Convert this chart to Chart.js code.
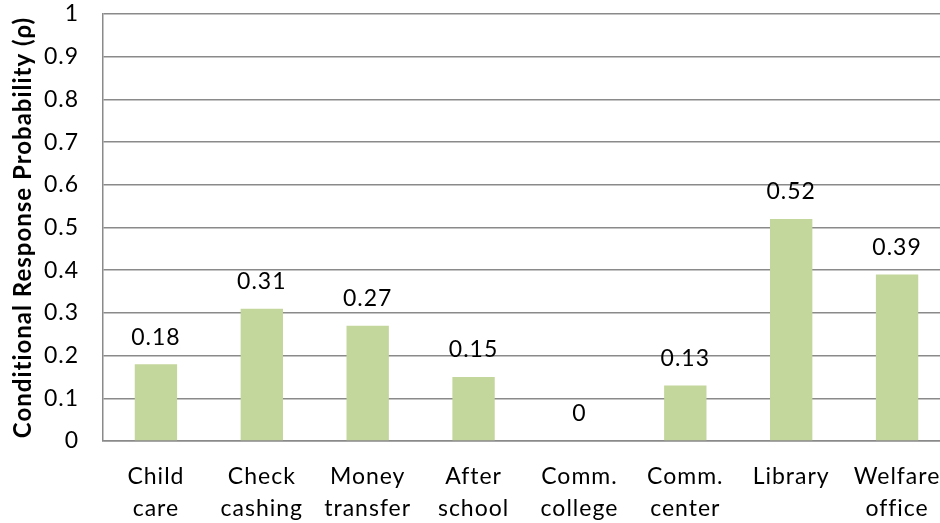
<!DOCTYPE html>
<html>
<head>
<meta charset="utf-8">
<script src="https://cdn.jsdelivr.net/npm/chart.js@4/dist/chart.umd.min.js"></script>
<style>
  html, body { margin: 0; padding: 0; background: #ffffff; overflow: hidden; }
  #wrap { width: 940px; height: 523px; position: relative; overflow: hidden; }
  #chart { position: absolute; left: 0; top: 0; }
</style>
</head>
<body>
<div id="wrap"><canvas id="chart" width="950" height="523"></canvas></div>
<script>
// Service categories (two-line labels) and conditional response probabilities
const categories = [
  ["Child", "care"],
  ["Check", "cashing"],
  ["Money", "transfer"],
  ["After", "school"],
  ["Comm.", "college"],
  ["Comm.", "center"],
  ["Library"],
  ["Welfare", "office"]
];
const probabilities = [0.18, 0.31, 0.27, 0.15, 0, 0.13, 0.52, 0.39];
const yTicks = [0, 0.1, 0.2, 0.3, 0.4, 0.5, 0.6, 0.7, 0.8, 0.9, 1];

const FONT = "Lato, Carlito, Calibri, 'Open Sans', sans-serif";
const SPACING = '1px';

// Slightly open letter spacing for all chart text
const textSpacing = {
  id: 'textSpacing',
  beforeInit(chart) { chart.ctx.letterSpacing = SPACING; },
  beforeUpdate(chart) { chart.ctx.letterSpacing = SPACING; },
  beforeDraw(chart) { chart.ctx.letterSpacing = SPACING; }
};

// Writes each bar's value just above it
const valueLabels = {
  id: 'valueLabels',
  afterDatasetsDraw(chart) {
    const ctx = chart.ctx;
    const meta = chart.getDatasetMeta(0);
    ctx.save();
    ctx.letterSpacing = SPACING;
    ctx.font = `23px ${FONT}`;
    ctx.fillStyle = '#000000';
    ctx.textAlign = 'center';
    ctx.textBaseline = 'middle';
    meta.data.forEach((bar, i) => {
      ctx.fillText(String(probabilities[i]), bar.x, bar.y - 27);
    });
    ctx.restore();
  }
};

// Fixed axis box sizes so the plot area sits where intended
function clearEdgePadding(scale) {
  scale.paddingTop = 0;
  scale.paddingBottom = 0;
  scale.paddingLeft = 0;
  scale.paddingRight = 0;
}

new Chart(document.getElementById('chart'), {
  type: 'bar',
  data: {
    labels: categories,
    datasets: [{
      data: probabilities,
      backgroundColor: '#c3d69b',
      borderWidth: 0,
      barPercentage: 0.4,
      categoryPercentage: 1.0
    }]
  },
  options: {
    responsive: false,
    animation: false,
    layout: { padding: { top: 14, right: 0, bottom: 0, left: 11 } },
    plugins: {
      legend: { display: false },
      tooltip: { enabled: false }
    },
    scales: {
      x: {
        afterFit(scale) { clearEdgePadding(scale); scale.height = 82; },
        grid: { display: false, drawTicks: false },
        border: { display: true, color: '#8a8a8a', width: 1.5 },
        ticks: {
          font: { family: FONT, size: 23, lineHeight: 1.4 },
          color: '#000000',
          padding: 19,
          maxRotation: 0,
          autoSkip: false
        }
      },
      y: {
        min: 0,
        max: 1,
        afterFit(scale) { clearEdgePadding(scale); scale.width = 92; },
        afterBuildTicks(axis) {
          axis.ticks = yTicks.map(v => ({ value: v }));
        },
        grid: { color: '#8a8a8a', lineWidth: 1.5, drawTicks: false },
        border: { display: true, color: '#8a8a8a', width: 1.5 },
        ticks: {
          font: { family: FONT, size: 23 },
          color: '#000000',
          padding: 24,
          callback: v => String(Math.round(v * 10) / 10)
        },
        title: {
          display: true,
          text: 'Conditional Response Probability (ρ)',
          font: { family: FONT, size: 24, weight: 'bold', lineHeight: 1.0 },
          color: '#000000',
          padding: { top: 0, bottom: 0 }
        }
      }
    }
  },
  plugins: [textSpacing, valueLabels]
});
</script>
</body>
</html>
